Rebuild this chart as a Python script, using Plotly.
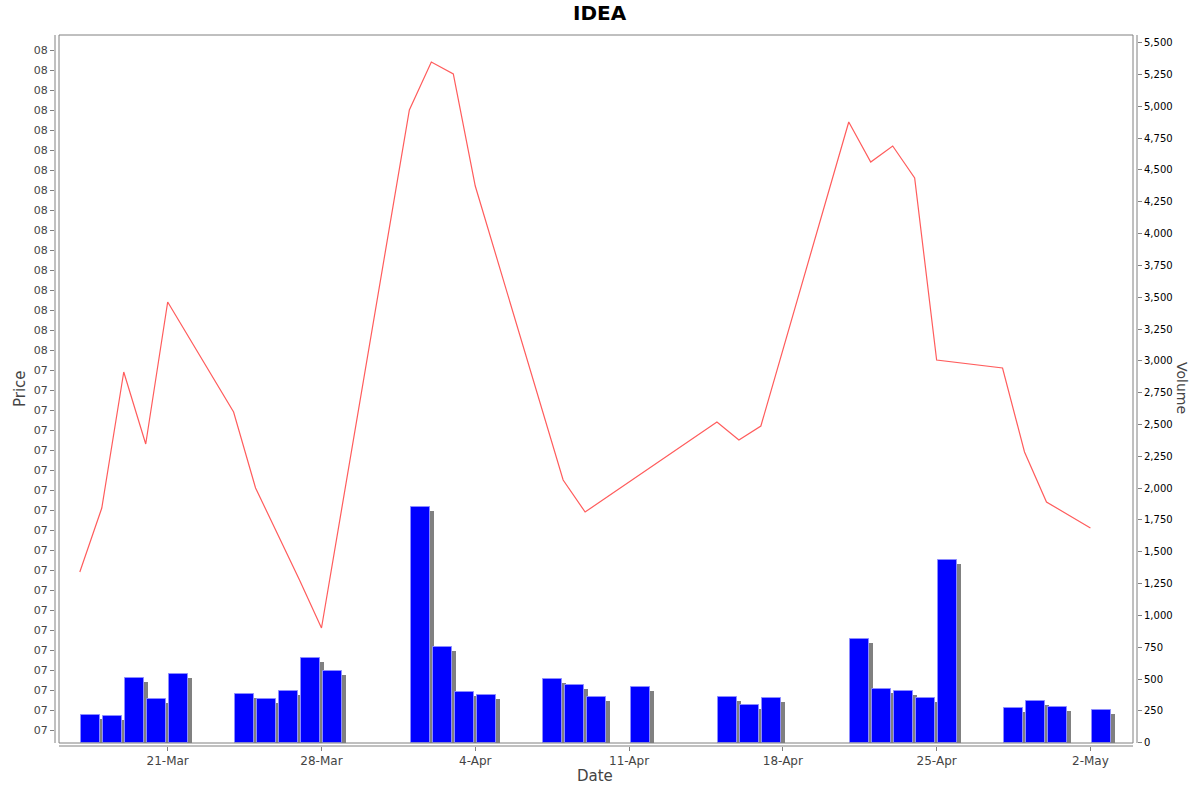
import plotly.graph_objects as go
import pandas as pd

# --------------------------
# DATA
# --------------------------
dates = [
    "2025-03-17", "2025-03-18", "2025-03-19", "2025-03-20", "2025-03-21",
    "2025-03-24", "2025-03-25", "2025-03-26", "2025-03-27", "2025-03-28",
    "2025-04-01", "2025-04-02", "2025-04-03", "2025-04-04",
    "2025-04-07", "2025-04-08", "2025-04-09", "2025-04-11",
    "2025-04-15", "2025-04-16", "2025-04-17",
    "2025-04-21", "2025-04-22", "2025-04-23", "2025-04-24", "2025-04-25",
    "2025-04-28", "2025-04-29", "2025-04-30", "2025-05-02",
]
price = [
    7.389, 7.421, 7.489, 7.453, 7.524,
    7.469, 7.431, 7.408, 7.385, 7.361,
    7.620, 7.644, 7.638, 7.582,
    7.472, 7.435, 7.419, 7.434,
    7.464, 7.455, 7.462,
    7.614, 7.594, 7.602, 7.586, 7.495,
    7.491, 7.449, 7.424, 7.411,
]
volume = [
    218, 210, 509, 343, 539,
    383, 343, 406, 665, 563,
    1852, 752, 398, 375,
    500, 453, 359, 438,
    359, 296, 351,
    815, 422, 406, 351, 1436,
    273, 327, 280, 257,
]

date_ticks = ["2025-03-21", "2025-03-28", "2025-04-04", "2025-04-11",
              "2025-04-18", "2025-04-25", "2025-05-02"]
date_labels = ["21-Mar", "28-Mar", "4-Apr", "11-Apr", "18-Apr", "25-Apr", "2-May"]

price_ticks = [round(7.31 + 0.01 * i, 2) for i in range(35)]
price_labels = [f"{round(v):02d}" for v in price_ticks]

volume_ticks = list(range(0, 5501, 250))

x = pd.to_datetime(dates)
DAY = 86400000
FONT = "DejaVu Sans"

# axes box on the page: 55..1137 x 35..746
W, H = 1082, 711

fig = go.Figure()

# --------------------------
# VOLUME BARS (shadow + bar)
# --------------------------
fig.add_trace(go.Bar(
    x=x, y=[v - 31 for v in volume], yaxis="y2",
    offset=0.25 * DAY, width=0.865 * DAY,
    marker=dict(color="#808080", line=dict(width=0)),
    hoverinfo="skip", showlegend=False,
))
fig.add_trace(go.Bar(
    x=x, y=volume, yaxis="y2",
    offset=0.068 * DAY, width=0.865 * DAY,
    marker=dict(color="#0000ff", line=dict(color="#8c8cff", width=1)),
    showlegend=False, name="Volume",
))

# --------------------------
# PRICE LINE
# --------------------------
fig.add_trace(go.Scatter(
    x=x, y=price, mode="lines", yaxis="y",
    line=dict(color="#ff5c5c", width=1.2),
    showlegend=False, name="Price",
))

# --------------------------
# AXIS LINES / PLOT OUTLINE
# --------------------------
grey = "#808080"
shapes = [
    dict(type="rect", xref="paper", yref="paper",
         x0=4 / W, x1=1 - 4 / W, y0=3 / H, y1=1,
         line=dict(color=grey, width=1), layer="above"),
    dict(type="line", xref="paper", yref="paper",
         x0=0, x1=0, y0=3 / H, y1=1, line=dict(color=grey, width=1)),
    dict(type="line", xref="paper", yref="paper",
         x0=1, x1=1, y0=3 / H, y1=1, line=dict(color=grey, width=1)),
    dict(type="line", xref="paper", yref="paper",
         x0=4 / W, x1=1 - 4 / W, y0=0, y1=0, line=dict(color=grey, width=1)),
]


def px(xp, yp):
    return (xp - 55) / W, (746 - yp) / H


annotations = []
for text, (ax, ay), ang, size, bold in [
    ("IDEA", px(600, 13), 0, 20, True),
    ("Price", px(20, 389), -90, 15, False),
    ("Volume", px(1182, 388), 90, 14, False),
    ("Date", px(595, 776), 0, 15, False),
]:
    annotations.append(dict(
        text=f"<b>{text}</b>" if bold else text,
        x=ax, y=ay, xref="paper", yref="paper",
        xanchor="center", yanchor="middle", showarrow=False,
        textangle=ang,
        font=dict(family=FONT, size=size, color="#000000" if bold else "#444444"),
    ))

# --------------------------
# LAYOUT
# --------------------------
fig.update_layout(
    width=1200, height=792,
    margin=dict(l=55, r=63, t=35, b=46),
    paper_bgcolor="#ffffff",
    plot_bgcolor="#ffffff",
    barmode="overlay",
    bargap=0,
    font=dict(family=FONT, size=11, color="#444444"),
    shapes=shapes,
    annotations=annotations,
    xaxis=dict(
        type="date",
        range=["2025-03-15 20:54", "2025-05-04 02:53"],
        tickvals=pd.to_datetime(date_ticks), ticktext=date_labels,
        ticks="outside", ticklen=4, tickcolor=grey,
        tickfont=dict(family=FONT, size=12, color="#444444"),
        showgrid=False, zeroline=False, showline=False,
    ),
    yaxis=dict(
        range=[7.302, 7.6575],
        tickvals=price_ticks, ticktext=price_labels,
        ticks="outside", ticklen=4, tickcolor=grey,
        tickfont=dict(family=FONT, size=11, color="#444444"),
        showgrid=False, zeroline=False, showline=False,
    ),
    yaxis2=dict(
        overlaying="y", side="right",
        range=[-26, 5560],
        tickvals=volume_ticks, tickformat=",",
        ticks="outside", ticklen=4, tickcolor=grey,
        tickfont=dict(family=FONT, size=10, color="#000000"),
        showgrid=False, zeroline=False, showline=False,
    ),
)

# drop the page's default body margin so the figure fills the window
fig.write_html(
    "out.html",
    config={"displayModeBar": False},
    post_script="document.body.style.margin='0';document.body.style.overflow='hidden';",
)
